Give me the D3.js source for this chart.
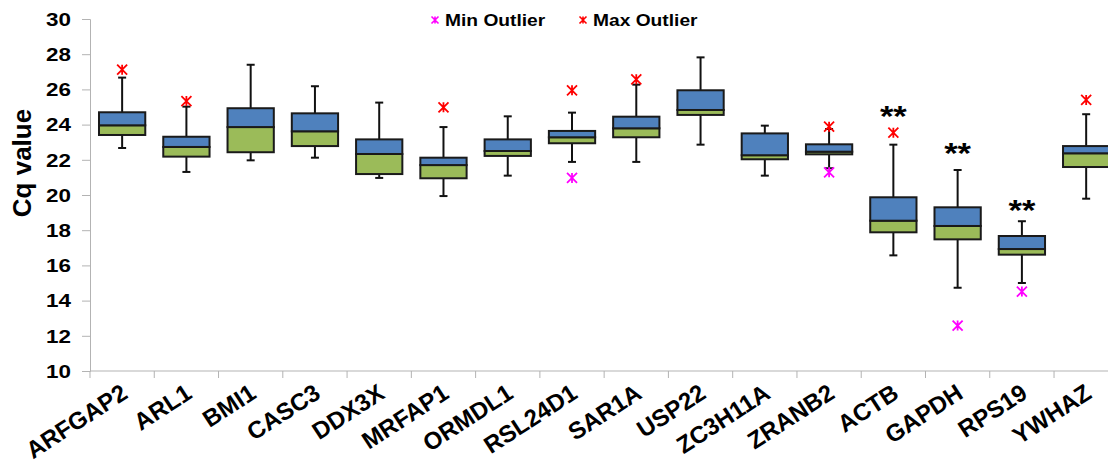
<!DOCTYPE html>
<html>
<head>
<meta charset="utf-8">
<script src="https://cdn.jsdelivr.net/npm/d3@7"></script>
<style>
  body { margin: 0; background: #fff; }
  text { font-family: "Liberation Sans", Arial, sans-serif; font-weight: bold; fill: #000; }
</style>
</head>
<body>
<div id="chart"></div>
<script>
// genes on the x axis
var genes = ['ARFGAP2', 'ARL1', 'BMI1', 'CASC3', 'DDX3X', 'MRFAP1', 'ORMDL1', 'RSL24D1',
             'SAR1A', 'USP22', 'ZC3H11A', 'ZRANB2', 'ACTB', 'GAPDH', 'RPS19', 'YWHAZ'];

// box plot statistics (Cq)
var whiskerLow  = [22.67, 21.31, 21.97, 22.12, 20.97, 19.94, 21.10, 21.88, 21.88, 22.86, 21.10, 21.52, 16.57, 14.73, 15.00, 19.79];
var q1          = [23.41, 22.18, 22.43, 22.78, 21.19, 20.95, 22.22, 22.94, 23.28, 24.55, 22.03, 22.31, 17.88, 17.48, 16.61, 21.59];
var median      = [23.96, 22.73, 23.86, 23.62, 22.33, 21.70, 22.50, 23.28, 23.79, 24.83, 22.26, 22.46, 18.54, 18.24, 16.93, 22.37];
var q3          = [24.70, 23.31, 24.93, 24.64, 23.16, 22.12, 23.16, 23.64, 24.45, 25.95, 23.50, 22.88, 19.87, 19.30, 17.67, 22.78];
var whiskerHigh = [26.67, 25.02, 27.40, 26.18, 25.25, 23.86, 24.47, 24.68, 26.27, 27.82, 23.94, 23.75, 22.86, 21.42, 18.51, 24.59];

// outliers (null = none)
var minOutlier  = [null, null, null, null, null, null, null, 20.97, null, null, null, 21.29, null, 12.58, 14.51, null];
var maxOutlier  = [27.12, 25.34, null, null, null, 24.98, null, 25.95, 26.57, null, null, 23.88, 23.54, null, null, 25.40];

// significance marks and the Cq level they sit at
var sigLabel = ['', '', '', '', '', '', '', '', '', '', '', '', '**', '**', '**', ''];
var sigLevel = [null, null, null, null, null, null, null, null, null, null, null, null, 23.94, 21.82, 18.60, null];

var yTicks = [10, 12, 14, 16, 18, 20, 22, 24, 26, 28, 30];

var width = 1108, height = 467;
var blue = '#4f81bd', green = '#9bbb59';
var minColor = '#ff00ff', maxColor = '#ff0000';
var sx = 1.18; // the figure is a bit wider than tall

var svg = d3.select('#chart').append('svg')
  .attr('width', width)
  .attr('height', height);

var x = d3.scaleBand().domain(genes).range([90, 1118.3]).padding(0);
var y = d3.scaleLinear().domain([10, 30]).range([371, 19]);

var boxW = x.bandwidth() * 0.72;
var capW = 8;

// asterisk-like marker
function star(r) {
  return 'M' + (-r) + ',' + (-r) + 'L' + r + ',' + r +
         'M' + (-r) + ',' + r + 'L' + r + ',' + (-r) +
         'M0,' + (-r) + 'L0,' + r;
}

// y axis
var yAxis = svg.append('g')
  .attr('transform', 'translate(90,0)')
  .call(d3.axisLeft(y).tickValues(yTicks).tickSize(8).tickFormat(d3.format('d')));
yAxis.select('.domain').attr('stroke', '#b3b3b3');
yAxis.selectAll('.tick line').attr('stroke', '#b3b3b3');
yAxis.selectAll('.tick text').remove();

svg.append('g').selectAll('text')
  .data(yTicks)
  .enter().append('text')
    .attr('transform', function(d) { return 'translate(71,' + y(d) + ') scale(' + sx + ',1)'; })
    .attr('text-anchor', 'end')
    .attr('dy', '0.36em')
    .attr('font-size', 19)
    .text(function(d) { return d; });

// x axis
var xAxis = svg.append('g')
  .attr('transform', 'translate(0,371)');
xAxis.append('line')
  .attr('x1', 90).attr('x2', 1118.3)
  .attr('stroke', '#b3b3b3');
xAxis.selectAll('line.tick')
  .data(genes)
  .enter().append('line')
    .attr('class', 'tick')
    .attr('x1', function(d) { return x(d); })
    .attr('x2', function(d) { return x(d); })
    .attr('y1', 0).attr('y2', 7)
    .attr('stroke', '#b3b3b3');

svg.append('g').selectAll('text')
  .data(genes)
  .enter().append('text')
    .attr('transform', function(d) {
      return 'translate(' + (x(d) + x.bandwidth() / 2 + 7) + ',397) rotate(-33)';
    })
    .attr('text-anchor', 'end')
    .attr('font-size', 24)
    .text(function(d) { return d; });

// axis title
svg.append('text')
  .attr('transform', 'translate(31,163) rotate(-90)')
  .attr('text-anchor', 'middle')
  .attr('font-size', 26)
  .text('Cq value');

// boxes
var boxes = svg.append('g').selectAll('g')
  .data(genes)
  .enter().append('g')
    .attr('transform', function(d) { return 'translate(' + (x(d) + x.bandwidth() / 2) + ',0)'; });

// whiskers
boxes.append('line')
  .attr('y1', function(d, i) { return y(whiskerLow[i]); })
  .attr('y2', function(d, i) { return y(q1[i]); })
  .attr('stroke', '#111').attr('stroke-width', 2);
boxes.append('line')
  .attr('y1', function(d, i) { return y(q3[i]); })
  .attr('y2', function(d, i) { return y(whiskerHigh[i]); })
  .attr('stroke', '#111').attr('stroke-width', 2);
boxes.append('line')
  .attr('x1', -capW / 2).attr('x2', capW / 2)
  .attr('y1', function(d, i) { return y(whiskerLow[i]); })
  .attr('y2', function(d, i) { return y(whiskerLow[i]); })
  .attr('stroke', '#111').attr('stroke-width', 2);
boxes.append('line')
  .attr('x1', -capW / 2).attr('x2', capW / 2)
  .attr('y1', function(d, i) { return y(whiskerHigh[i]); })
  .attr('y2', function(d, i) { return y(whiskerHigh[i]); })
  .attr('stroke', '#111').attr('stroke-width', 2);

// lower half (green) and upper half (blue)
boxes.append('rect')
  .attr('x', -boxW / 2).attr('width', boxW)
  .attr('y', function(d, i) { return y(median[i]); })
  .attr('height', function(d, i) { return y(q1[i]) - y(median[i]); })
  .attr('fill', green).attr('stroke', '#1a1a1a').attr('stroke-width', 2);
boxes.append('rect')
  .attr('x', -boxW / 2).attr('width', boxW)
  .attr('y', function(d, i) { return y(q3[i]); })
  .attr('height', function(d, i) { return y(median[i]) - y(q3[i]); })
  .attr('fill', blue).attr('stroke', '#1a1a1a').attr('stroke-width', 2);

// outliers
boxes.filter(function(d, i) { return maxOutlier[i] != null; })
  .append('path')
    .attr('d', star(5))
    .attr('transform', function(d) { return 'translate(0,' + y(maxOutlier[genes.indexOf(d)]) + ')'; })
    .attr('stroke', maxColor).attr('stroke-width', 1.8).attr('fill', 'none');
boxes.filter(function(d, i) { return minOutlier[i] != null; })
  .append('path')
    .attr('d', star(5))
    .attr('transform', function(d) { return 'translate(0,' + y(minOutlier[genes.indexOf(d)]) + ')'; })
    .attr('stroke', minColor).attr('stroke-width', 1.8).attr('fill', 'none');

// significance
boxes.filter(function(d, i) { return sigLabel[i] != ''; })
  .append('text')
    .attr('transform', function(d) { return 'translate(0,' + y(sigLevel[genes.indexOf(d)]) + ') scale(1.15,1)'; })
    .attr('text-anchor', 'middle')
    .attr('font-size', 30)
    .text(function(d) { return sigLabel[genes.indexOf(d)]; });

// legend
var legend = svg.append('g');
var legendItems = [
  {label: 'Min Outlier', color: minColor, x: 435},
  {label: 'Max Outlier', color: maxColor, x: 583}
];
legendItems.forEach(function(item) {
  legend.append('path')
    .attr('d', star(3.5))
    .attr('transform', 'translate(' + item.x + ',20)')
    .attr('stroke', item.color).attr('stroke-width', 1.6).attr('fill', 'none');
  legend.append('text')
    .attr('transform', 'translate(' + (item.x + 10) + ',26) scale(1.13,1)')
    .attr('font-size', 17)
    .text(item.label);
});
</script>
</body>
</html>
